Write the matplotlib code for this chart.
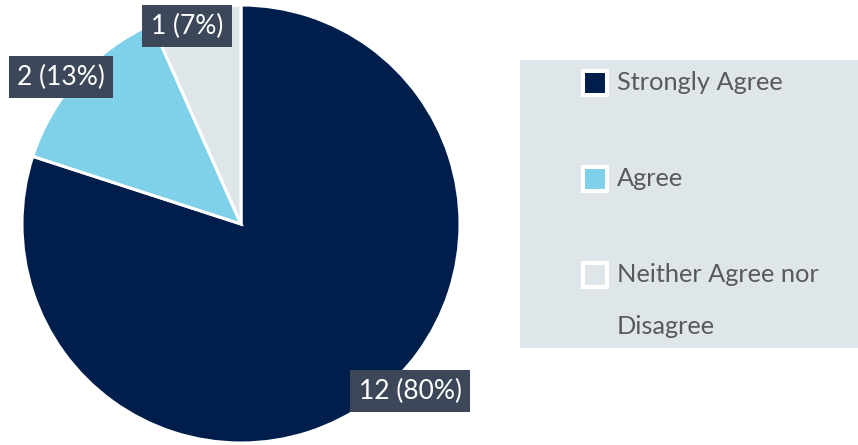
import matplotlib.pyplot as plt
from matplotlib.patches import Rectangle

plt.rcParams['font.family'] = ['Lato', 'DejaVu Sans']

categories = ['Strongly Agree', 'Agree', 'Neither Agree nor\nDisagree']
counts = [12, 2, 1]
percents = [80, 13, 7]
colors = ['#001E4B', '#7FD1EA', '#DEE6E9']

# where each value label sits (data coords around the unit pie)
label_pos = [(0.772, -0.763), (-0.822, 0.671), (-0.247, 0.904)]

W, H = 858, 445
fig = plt.figure(figsize=(W / 100, H / 100), dpi=100)
cx, cy, r = 241, 224, 219
ax = fig.add_axes([(cx - r) / W, (H - cy - r) / H, 2 * r / W, 2 * r / H])

wedges, _ = ax.pie(counts, colors=colors, startangle=90, counterclock=False,
                   radius=1, wedgeprops=dict(edgecolor='white', linewidth=2.2))
ax.set_xlim(-1, 1)
ax.set_ylim(-1, 1)
ax.set_aspect('equal')
ax.axis('off')

for (x, y), n, p in zip(label_pos, counts, percents):
    ax.text(x, y, f'{n} ({p}%)', ha='center', va='center', color='white',
            fontsize=19, zorder=5,
            bbox=dict(boxstyle='square,pad=0.32', facecolor='#3C4859', edgecolor='none'))

# legend panel on the right
fig.patches.append(Rectangle((520 / W, (H - 348) / H), (W - 520) / W, 288 / H,
                             transform=fig.transFigure, facecolor='#DFE6E9',
                             edgecolor='none', zorder=0))
rows = [83, 179, 275]
for yy, lab, w in zip(rows, categories, wedges):
    fig.patches.append(Rectangle((583 / W, (H - yy - 12) / H), 24 / W, 24 / H,
                                 transform=fig.transFigure, facecolor=w.get_facecolor(),
                                 edgecolor='white', linewidth=2.9, zorder=2))
    for i, line in enumerate(lab.split('\n')):
        fig.text(617 / W, (H - yy - 52 * i) / H, line, ha='left', va='center',
                 fontsize=18.3, color='#595959')

fig.savefig('out.png', dpi=100)
